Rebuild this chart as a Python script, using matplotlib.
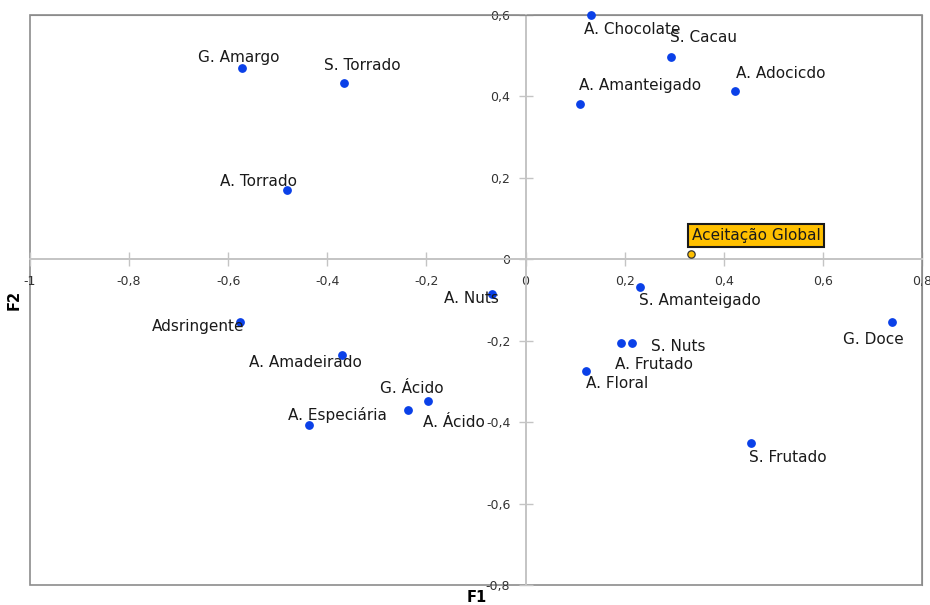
import matplotlib.pyplot as plt
from matplotlib.patches import Rectangle
from matplotlib.ticker import FuncFormatter

# Attribute coordinates on the first two factors
labels = ['A. Chocolate', 'S. Cacau', 'A. Amanteigado', 'A. Adocicdo',
          'G. Amargo', 'S. Torrado', 'A. Torrado', 'A. Nuts',
          'S. Amanteigado', 'G. Doce', 'Adsringente', 'A. Amadeirado',
          'S. Nuts', 'A. Frutado', 'A. Floral', 'G. Ácido', 'A. Ácido',
          'A. Especiária', 'S. Frutado']
f1 = [0.133, 0.294, 0.109, 0.423, -0.572, -0.366, -0.481, -0.068,
      0.231, 0.739, -0.577, -0.370, 0.215, 0.192, 0.121, -0.238, -0.197,
      -0.436, 0.454]
f2 = [0.600, 0.497, 0.381, 0.413, 0.469, 0.433, 0.171, -0.086,
      -0.069, -0.155, -0.154, -0.235, -0.206, -0.206, -0.274, -0.370,
      -0.349, -0.407, -0.452]

# Supplementary variable
sup_label = 'Aceitação Global'
sup_f1 = 0.333
sup_f2 = 0.012

xticks = [-1, -0.8, -0.6, -0.4, -0.2, 0, 0.2, 0.4, 0.6, 0.8]
yticks = [-0.8, -0.6, -0.4, -0.2, 0, 0.2, 0.4, 0.6]

# label offsets in pixels (left edge of text, vertical centre), y down
offsets = {
    'A. Chocolate': (-7, 15), 'S. Cacau': (-1, -19),
    'A. Amanteigado': (-1, -19), 'A. Adocicdo': (1, -18),
    'G. Amargo': (-44, -11), 'S. Torrado': (-20, -17),
    'A. Torrado': (-67, -8), 'A. Nuts': (-48, 4),
    'S. Amanteigado': (-1, 13), 'G. Doce': (-49, 17),
    'Adsringente': (-88, 5), 'A. Amadeirado': (-93, 8),
    'S. Nuts': (19, 3), 'A. Frutado': (-6, 21), 'A. Floral': (0, 13),
    'G. Ácido': (-28, -21), 'A. Ácido': (-5, 21),
    'A. Especiária': (-21, -10), 'S. Frutado': (-2, 14),
}

fig = plt.figure(figsize=(9.3, 6.05), dpi=100)
ax = fig.add_axes([30 / 930, 20 / 605, 892 / 930, 570 / 605])
ax.set_xlim(-1, 0.8)
ax.set_ylim(-0.8, 0.6)

# axes through the origin
for side in ['left', 'bottom']:
    ax.spines[side].set_position(('data', 0))
    ax.spines[side].set_color('#c4c4c4')
    ax.spines[side].set_linewidth(1.4)
for side in ['top', 'right']:
    ax.spines[side].set_color('#8c8c8c')
ax.add_patch(Rectangle((0, 0), 1, 1, transform=ax.transAxes, fill=False,
                       edgecolor='#8c8c8c', linewidth=1.2, clip_on=False))

fmt = FuncFormatter(lambda v, p: ('%g' % round(v, 2)).replace('.', ','))
ax.set_xticks(xticks)
ax.set_yticks(yticks)
ax.xaxis.set_major_formatter(fmt)
ax.yaxis.set_major_formatter(fmt)
ax.tick_params(axis='both', direction='inout', length=10, width=1,
               color='#c4c4c4', labelsize=9, labelcolor='#333333')
ax.tick_params(axis='x', pad=6)
ax.tick_params(axis='y', pad=6)

ax.scatter(f1, f2, s=28, color='#0a40e8', zorder=5, clip_on=False)
ax.scatter([sup_f1], [sup_f2], s=28, color='#ffc000', edgecolor='#333333',
           linewidth=0.9, zorder=5)

for name, x, y in zip(labels, f1, f2):
    dx, dy = offsets[name]
    ax.annotate(name, (x, y), xytext=(dx, -dy), textcoords='offset pixels',
                ha='left', va='center', fontsize=11, color='#1a1a1a',
                zorder=6)

ax.annotate(sup_label, (sup_f1, sup_f2), xytext=(1, 19),
            textcoords='offset pixels', ha='left', va='center',
            fontsize=11, color='#1a1a1a', zorder=6,
            bbox=dict(boxstyle='square,pad=0.25', facecolor='#ffc000',
                      edgecolor='#1a1a1a', linewidth=1.5))

fig.text(477 / 930, 1 - 598 / 605, 'F1', ha='center', va='center',
         fontsize=10.5, fontweight='bold')
fig.text(14 / 930, 1 - 300 / 605, 'F2', ha='center', va='center',
         fontsize=10.5, fontweight='bold', rotation=90)

fig.savefig('out.png', dpi=100, facecolor='white')
